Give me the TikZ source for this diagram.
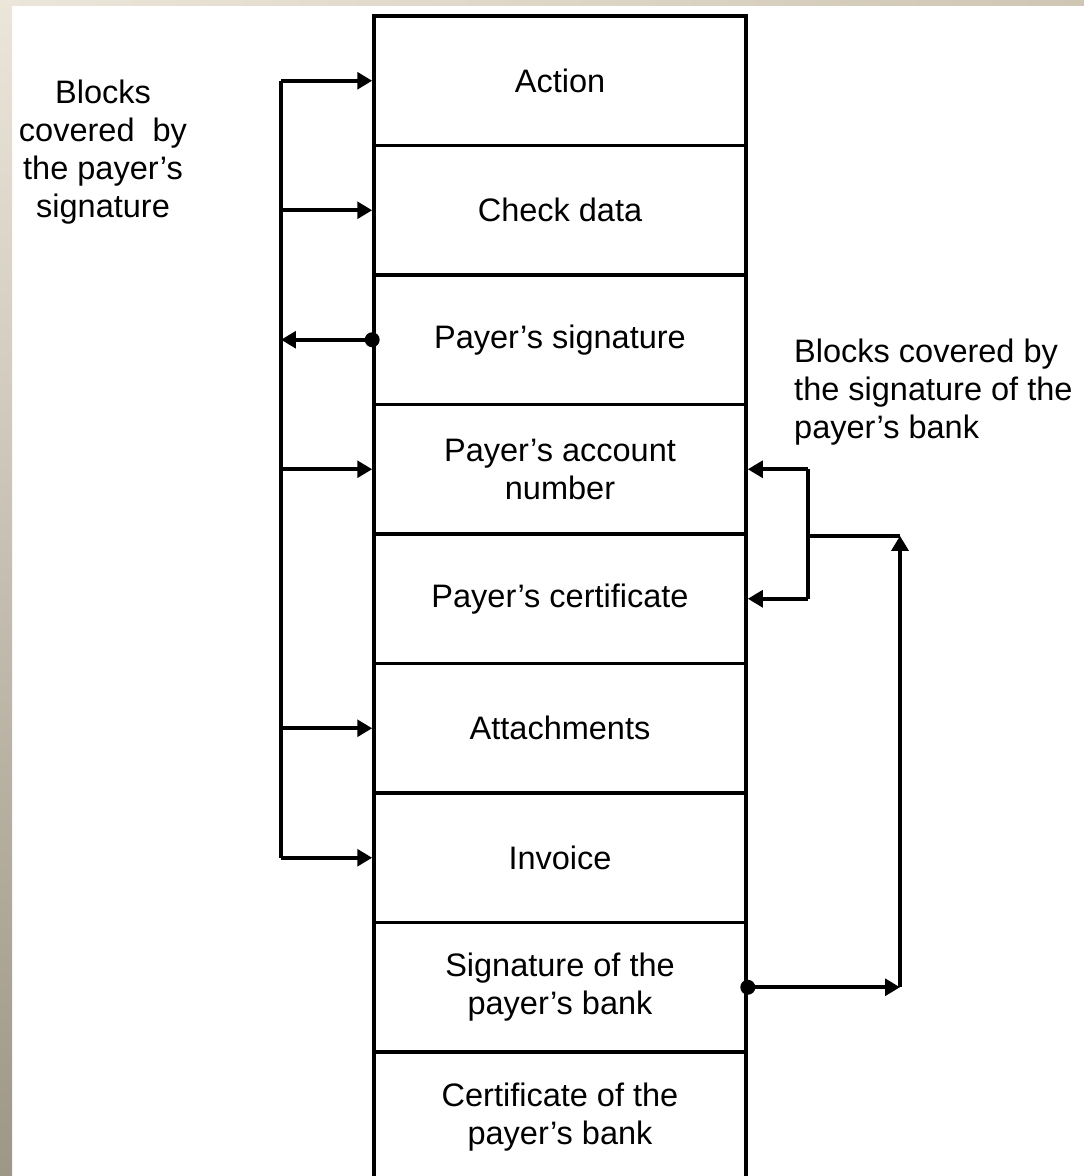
\documentclass[tikz,border=0pt]{standalone}
\usepackage{fontspec}
\setmainfont{Liberation Sans}
\usetikzlibrary{arrows.meta}
\definecolor{edgelight}{RGB}{236,230,218}
\definecolor{edgedark}{RGB}{158,150,134}
\definecolor{edgeright}{RGB}{207,198,180}

\begin{document}
\begin{tikzpicture}[x=0.02cm,y=-0.02cm,
  every node/.style={font=\fontsize{18.5}{21.6}\selectfont},
  block/.style={draw,line width=2.1pt,minimum width=7.44cm,minimum height=2.59cm,inner sep=0pt,align=center},
  wire/.style={line width=2.1pt},
  tip/.style={-{Triangle[length=8.5pt,width=9.5pt]}}]
\useasboundingbox (0,0) rectangle (1084,1176);
% page edge
\shade [left color=edgelight, right color=edgeright] (0,0) rectangle (1084,6);
\shade [top color=edgelight, bottom color=edgedark] (0,0) rectangle (12,1176);
% the message blocks
\node [block] (act) at (560,80.75) {Action};
\node [block] (chk) at (560,210.25) {Check data};
\node [block] (psig) at (560,339.75) {Payer's signature};
\node [block] (acct) at (560,469.25) {Payer's account\\number};
\node [block] (cert) at (560,598.75) {Payer's certificate};
\node [block] (att) at (560,728.25) {Attachments};
\node [block] (inv) at (560,857.75) {Invoice};
\node [block] (bsig) at (560,987.25) {Signature of the\\payer's bank};
\node [block] (bcert) at (560,1116.75) {Certificate of the\\payer's bank};
% labels
\node [align=center] (paylbl) at (103,152) {Blocks\\covered\ \ by\\the payer's\\signature};
\node [align=left,anchor=west] (banklbl) at (788,392) {Blocks covered by\\the signature of the\\payer's bank};
% payer's signature
\coordinate (bus) at (281,0);
\draw [wire] (bus |- act.west) -- (bus |- inv.west);
\draw [wire,tip] (bus |- act.west) -- (act.west);
\draw [wire,tip] (bus |- chk.west) -- (chk.west);
\draw [wire,tip] (psig.west) -- (bus |- psig.west);
\fill (psig.west) circle (0.15cm);
\draw [wire,tip] (bus |- acct.west) -- (acct.west);
\draw [wire,tip] (bus |- att.west) -- (att.west);
\draw [wire,tip] (bus |- inv.west) -- (inv.west);
% signature of the bank
\coordinate (brk) at (808,0);
\coordinate (riser) at (900,0);
\draw [wire] (brk |- acct.east) -- (brk |- cert.east);
\draw [wire,tip] (brk |- acct.east) -- (acct.east);
\draw [wire,tip] (brk |- cert.east) -- (cert.east);
\draw [wire] (brk |- acct.south) -- (riser |- acct.south);
\draw [wire,tip] (bsig.east) -- (riser |- bsig.east);
\draw [wire,tip] (riser |- bsig.east) -- (riser |- acct.south);
\fill (bsig.east) circle (0.15cm);
\end{tikzpicture}
\end{document}
